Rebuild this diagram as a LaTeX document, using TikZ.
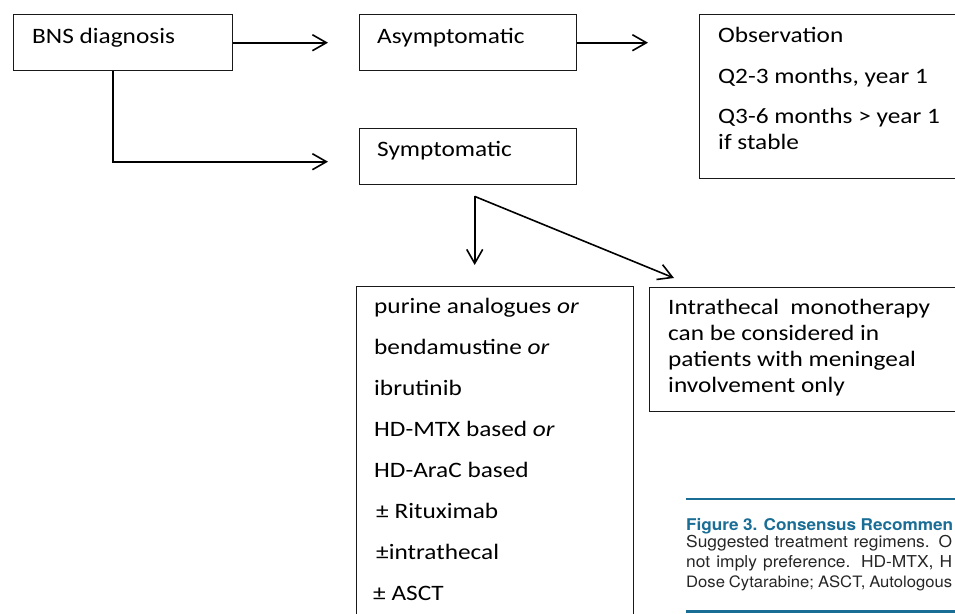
\documentclass[tikz,border=0pt]{standalone}
\usepackage{fontspec}
\setmainfont{Carlito}[FakeStretch=1.15]
\newfontfamily\capfont{TeX Gyre Heros}[FakeStretch=1.06]
\usetikzlibrary{arrows.meta,calc}
\definecolor{capblue}{RGB}{26,110,150}
\begin{document}
\begin{tikzpicture}[x=1pt,y=-1pt,
  box/.style={draw=black!90, line width=1.4pt, rectangle, inner sep=0pt, anchor=north west},
  lbl/.style={anchor=base west, inner sep=0pt, font=\fontsize{22}{26}\selectfont},
  arr/.style={line width=1.6pt, -{Straight Barb[length=14pt,width=16pt]}},
  captext/.style={anchor=base west, inner sep=0pt, font=\capfont\fontsize{16.4}{19}\selectfont, text=black!85},
  captitle/.style={anchor=base west, inner sep=0pt, font=\capfont\bfseries\fontsize{16.2}{19}\selectfont, text=capblue},
  caprule/.style={draw=capblue, line width=2.6pt},
]
\useasboundingbox (0,0) rectangle (955,613);
\clip (0,0) rectangle (955,613);

% boxes
\node[box, minimum width=219pt, minimum height=56pt] (bns) at (13,14) {};
\node[box, minimum width=217pt, minimum height=56pt] (asym) at (359,14) {};
\node[box, minimum width=320pt, minimum height=164pt] (obs) at (699,14) {};
\node[box, minimum width=217pt, minimum height=56pt] (symp) at (359,128) {};
\node[box, minimum width=277pt, minimum height=400pt] (drug) at (356,286) {};
\node[box, minimum width=340pt, minimum height=124pt] (intra) at (649,287) {};

% texts
\node[lbl] (tbns) at (32,43) {BNS diagnosis};
\node[lbl] (tasym) at (377,43) {Asymptomatic};
\node[lbl] (tobs1) at (718,42) {Observation};
\node[lbl] (tobs2) at (718,83) {Q2-3 months, year 1};
\node[lbl] (tobs3) at (718,123) {Q3-6 months > year 1};
\node[lbl] (tobs4) at (718,149) {if stable};
\node[lbl] (tsymp) at (377,156) {Symptomatic};

\node[lbl] (d1) at (374,313) {purine analogues \textit{or}};
\node[lbl] (d2) at (374,354) {bendamustine \textit{or}};
\node[lbl] (d3) at (374,395) {ibrutinib};
\node[lbl] (d4) at (374,436) {HD-MTX based \textit{or}};
\node[lbl] (d5) at (374,477) {HD-AraC based};
\node[lbl] (d6) at (376,518) {± Rituximab};
\node[lbl] (d7) at (376,559) {±intrathecal};
\node[lbl] (d8) at (373,600) {± ASCT};

\node[lbl] (i1) at (668,314) {Intrathecal\ \ monotherapy};
\node[lbl] (i2) at (668,340) {can be considered in};
\node[lbl] (i3) at (668,366) {patients with meningeal};
\node[lbl] (i4) at (668,392) {involvement only};

% connectors
\draw[arr, shorten >=31pt] (bns.east) -- (asym.west);
\draw[arr, shorten >=51pt] (asym.east) -- (asym.east -| obs.west);
\draw[arr, shorten >=31pt] ([xshift=-10.5pt]bns.south) |- ([yshift=-5pt]symp.west);
\coordinate (split) at ([xshift=6.5pt,yshift=-11pt]symp.south);
\coordinate (diagend) at ([xshift=25pt,yshift=9pt]intra.north west);
\draw[arr, shorten >=21pt] (split) -- (split |- drug.north);
\draw[arr] (split) -- (diagend);

% caption
\coordinate (crA) at (686,499);
\coordinate (crB) at (960,499);
\draw[caprule] (crA) -- (crB);
\node[captitle] (c1) at (686,530) {\makebox[267pt][s]{Figure 3. Consensus Recommen}};
\node[captext] (c2) at (686,547) {\makebox[266pt][s]{Suggested treatment regimens. O}};
\node[captext] (c3) at (686,567) {\makebox[266pt][s]{not imply preference. HD-MTX, H}};
\node[captext, font=\capfont\fontsize{15.7}{19}\selectfont] (c4) at (686,587) {\makebox[266pt][s]{Dose Cytarabine; ASCT, Autologous}};
\coordinate (crC) at (686,611.5);
\coordinate (crD) at (960,611.5);
\draw[caprule] (crC) -- (crD);
\end{tikzpicture}
\end{document}
